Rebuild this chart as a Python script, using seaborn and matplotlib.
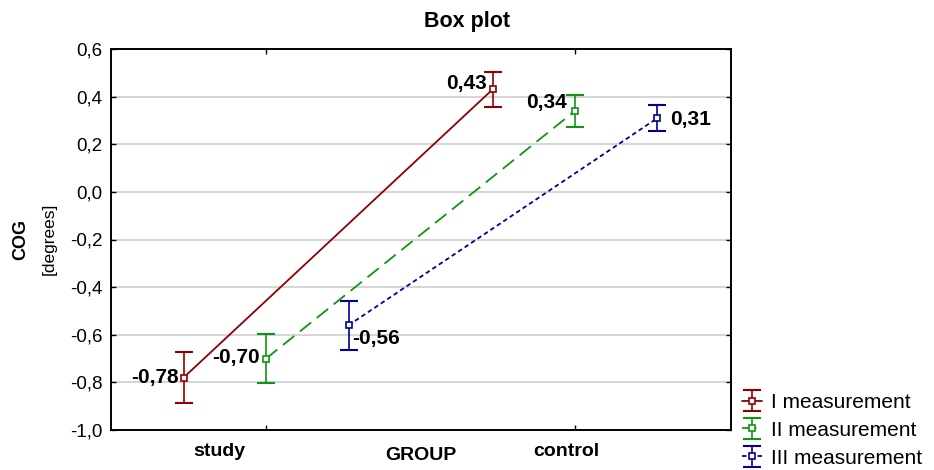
import numpy as np
import pandas as pd
import matplotlib
matplotlib.use("Agg")
import matplotlib.pyplot as plt
import seaborn as sns
from matplotlib.legend_handler import HandlerTuple

# ---------------- data ----------------
groups = ["study", "control"]
series = ["I measurement", "II measurement", "III measurement"]
means_I = [-0.78, 0.43]
means_II = [-0.70, 0.34]
means_III = [-0.56, 0.31]
err_I = [0.108, 0.075]
err_II = [0.103, 0.068]
err_III = [0.103, 0.056]
yticks = [-1.0, -0.8, -0.6, -0.4, -0.2, 0.0, 0.2, 0.4, 0.6]
ytick_labels = ["-1,0", "-0,8", "-0,6", "-0,4", "-0,2", "0,0", "0,2", "0,4", "0,6"]
title = "Box plot"
xlabel = "GROUP"
ylabel_main = "COG"
ylabel_unit = "[degrees]"

means = [means_I, means_II, means_III]
errs = [err_I, err_II, err_III]

# ---------------- style ----------------
sns.set_style("white")
plt.rcParams["font.family"] = ["Liberation Sans", "DejaVu Sans"]
plt.rcParams["text.color"] = "black"
plt.rcParams["xtick.color"] = "black"
plt.rcParams["ytick.color"] = "black"
plt.rcParams["axes.labelcolor"] = "black"

colors = ["#900000", "#0f960f", "#000096"]
linestyles = ["-", (0, (8, 4)), (0, (2.5, 1.8))]
offsets = [-0.267, 0.0, 0.267]
# label offsets (points) and alignment per series/group
ann_style = {
    (0, 0): (-3.6, -3.6, "right"), (0, 1): (-4.3, 0.0, "right"),
    (1, 0): (-4.3, -2.9, "right"), (1, 1): (-5.8, 2.2, "right"),
    (2, 0): (2.9, -13.7, "left"), (2, 1): (9.4, -5.0, "left"),
}

fig = plt.figure(figsize=(9.34, 4.70), dpi=100)
ax = fig.add_axes([111 / 934, 1 - 430 / 470, 620 / 934, 381 / 470])

rows = []
for si, s in enumerate(series):
    for gi, g in enumerate(groups):
        rows.append({"series": s, "group": g, "gi": gi, "mean": means[si][gi], "err": errs[si][gi]})
df = pd.DataFrame(rows)
df["x"] = df["gi"] + df["series"].map(dict(zip(series, offsets)))

handles = []
for si, s in enumerate(series):
    sub = df[df["series"] == s]
    sns.lineplot(data=sub, x="x", y="mean", ax=ax, color=colors[si], linestyle=linestyles[si],
                 linewidth=1.3, marker="s", markersize=5, markerfacecolor="white",
                 markeredgecolor=colors[si], markeredgewidth=1.2, legend=False, zorder=3,
                 estimator=None, sort=False)
    line = ax.lines[-1]
    eb = ax.errorbar(sub["x"], sub["mean"], yerr=sub["err"], fmt="none", ecolor=colors[si],
                     elinewidth=1.2, capsize=6.5, capthick=1.5, zorder=2)
    handles.append((eb, line))
    for gi in range(len(groups)):
        r = sub[sub["gi"] == gi].iloc[0]
        dx, dy, ha = ann_style[(si, gi)]
        ax.annotate(f"{r['mean']:.2f}".replace(".", ","), (r["x"], r["mean"]),
                    xytext=(dx, dy), textcoords="offset points", ha=ha, va="baseline",
                    fontsize=15, fontweight="bold", color="black", zorder=5)

ax.set_xlim(-0.502, 1.505)
ax.set_ylim(-1.0, 0.6)
ax.set_yticks(yticks)
ax.set_yticklabels(ytick_labels, fontsize=13.5)
ax.yaxis.grid(True, color="#d2d2d2", linewidth=1.3, zorder=0)
ax.set_axisbelow(True)

ax.set_xticks([0, 1])
ax.set_xticklabels(["", ""])
ax.set_xticks([0 - 0.152, 1 - 0.029], minor=True)
ax.set_xticklabels(groups, minor=True, fontsize=14, fontweight="bold")
ax.tick_params(axis="x", which="minor", length=0, pad=9)
ax.tick_params(axis="both", which="major", direction="in", length=3.5, width=1.0,
               top=True, right=True, bottom=True, left=True, color="black")
ax.tick_params(axis="y", pad=6)
ax.set_xlabel("")
ax.set_ylabel("")

for sp in ax.spines.values():
    sp.set_visible(True)
    sp.set_color("black")
    sp.set_linewidth(1.4)

ax.text(0.5, -0.066, xlabel, transform=ax.transAxes, ha="center", va="center",
        fontsize=14, fontweight="bold")
fig.text(21 / 934, 1 - 239 / 470, ylabel_main, rotation=90, ha="center", va="center",
         fontsize=13, fontweight="bold")
fig.text(49 / 934, 1 - 239 / 470, ylabel_unit, rotation=90, ha="center", va="center",
         fontsize=12.5)
fig.text(0.5, 1 - 22 / 470, title, ha="center", va="center", fontsize=15.5, fontweight="bold")

fig.legend(handles, series, loc="upper left", bbox_to_anchor=(742 / 934, 1 - 393 / 470),
           frameon=False, fontsize=15, handlelength=0.95, handletextpad=0.45,
           labelspacing=0.42, borderpad=0, borderaxespad=0,
           handler_map={tuple: HandlerTuple(ndivide=1)})

fig.savefig("out.png", dpi=100)
